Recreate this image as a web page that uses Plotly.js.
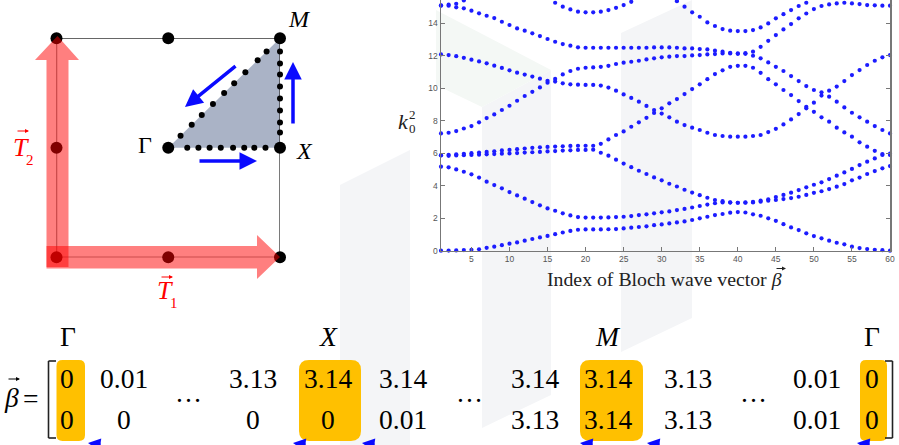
<!DOCTYPE html>
<html>
<head>
<meta charset="utf-8">
<script src="https://cdn.plot.ly/plotly-3.0.1.min.js"></script>
<style>html,body{margin:0;padding:0;background:#fff}#chart{width:899px;height:445px}</style>
</head>
<body>
<div id="chart"></div>
<script>
// ---------------- DATA ----------------
// Index of Bloch wave vector (Gamma -> X -> M -> Gamma)
const blochIndex = [1,2,3,4,5,6,7,8,9,10,11,12,13,14,15,16,17,18,19,20,
  21,22,23,24,25,26,27,28,29,30,31,32,33,34,35,36,37,38,39,40,
  41,42,43,44,45,46,47,48,49,50,51,52,53,54,55,56,57,58,59,60];

// k0^2 for each band
const bandA = [0.00,0.01,0.02,0.04,0.06,0.09,0.18,0.25,0.34,0.43,0.51,0.62,0.72,0.82,0.91,1.02,1.12,1.22,1.29,1.31,
  1.31,1.31,1.32,1.33,1.37,1.42,1.46,1.50,1.57,1.62,1.68,1.74,1.80,1.89,1.99,2.09,2.19,2.26,2.34,2.38,
  2.35,2.24,2.15,1.99,1.84,1.63,1.43,1.27,1.07,0.90,0.76,0.62,0.49,0.39,0.25,0.16,0.10,0.06,0.03,0.00];
const bandB = [5.17,5.13,5.00,4.86,4.70,4.50,4.25,4.04,3.84,3.61,3.40,3.20,2.99,2.79,2.60,2.46,2.30,2.17,2.07,2.04,
  2.04,2.04,2.05,2.07,2.09,2.13,2.19,2.24,2.30,2.36,2.42,2.50,2.57,2.66,2.75,2.84,2.92,2.97,2.96,2.95,
  2.95,2.97,3.02,3.08,3.12,3.18,3.24,3.32,3.43,3.56,3.66,3.79,3.94,4.10,4.33,4.50,4.72,4.90,5.07,5.21];
const bandC = [5.86,5.84,5.86,5.88,5.89,5.91,5.93,5.95,5.97,5.99,6.01,6.04,6.06,6.08,6.11,6.13,6.16,6.18,6.20,6.20,
  6.22,6.03,5.85,5.60,5.36,5.14,4.92,4.72,4.51,4.33,4.12,3.95,3.75,3.58,3.42,3.26,3.12,3.05,2.98,2.95,
  2.97,3.00,3.08,3.16,3.30,3.43,3.57,3.73,3.90,4.06,4.21,4.41,4.62,4.82,5.03,5.27,5.48,5.68,5.89,5.97];
const bandD = [5.88,5.90,5.93,5.96,6.00,6.04,6.08,6.12,6.17,6.20,6.25,6.29,6.33,6.36,6.39,6.41,6.43,6.45,6.46,6.46,
  6.46,6.58,6.85,7.12,7.34,7.63,7.90,8.18,8.48,8.76,9.07,9.33,9.64,9.95,10.24,10.56,10.87,11.10,11.32,11.38,
  11.38,11.26,10.95,10.56,10.24,9.89,9.58,9.21,8.86,8.55,8.21,7.94,7.57,7.28,7.02,6.67,6.40,6.15,5.95,5.89];
const bandE = [7.22,7.26,7.36,7.52,7.67,7.90,8.16,8.39,8.66,8.92,9.23,9.52,9.78,10.05,10.34,10.41,10.30,10.24,10.22,10.20,
  10.20,10.16,10.04,9.85,9.62,9.40,9.17,8.91,8.66,8.44,8.21,7.94,7.73,7.57,7.43,7.26,7.12,7.06,7.02,7.02,
  7.02,7.06,7.12,7.30,7.50,7.77,8.08,8.41,8.76,9.11,9.55,9.85,10.10,10.44,10.81,11.12,11.43,11.69,11.90,12.04];
const bandF = [12.08,12.04,11.97,11.87,11.76,11.65,11.53,11.39,11.25,11.10,10.96,10.84,10.72,10.59,10.46,10.57,10.85,11.06,11.20,11.26,
  11.28,11.32,11.38,11.49,11.57,11.63,11.69,11.77,11.84,11.90,11.94,11.98,11.98,12.02,12.04,12.08,12.10,12.14,12.14,12.12,
  12.12,12.00,11.84,11.59,11.32,11.06,10.75,10.44,10.13,9.89,9.75,9.48,9.17,8.82,8.49,8.21,7.94,7.67,7.43,7.22];
const bandG = [15.08,15.08,14.98,14.92,14.77,14.61,14.46,14.32,14.09,13.89,13.68,13.54,13.38,13.21,13.03,12.86,12.72,12.62,12.52,12.49,
  12.49,12.49,12.49,12.49,12.49,12.49,12.49,12.49,12.51,12.51,12.51,12.49,12.45,12.45,12.41,12.39,12.31,12.25,12.18,12.14,
  12.16,12.25,12.55,12.92,13.27,13.62,13.95,14.30,14.60,14.87,15.06,15.16,15.22,15.26,15.22,15.18,15.12,15.10,15.08,15.08];
const bandH = [15.10,15.14,15.20,15.40,null,null,null,null,null,null,null,null,null,null,null,15.26,15.02,14.85,14.71,14.67,
  14.67,14.71,14.81,14.95,15.12,15.32,null,null,null,null,null,null,null,null,null,null,null,null,null,null,
  null,null,null,null,null,null,null,null,null,null,null,null,null,null,null,null,null,null,null,null];
const bandI = [null,null,null,null,null,null,null,null,null,null,null,null,null,null,null,null,null,null,null,null,
  null,null,null,null,null,null,null,null,null,null,null,15.36,15.02,14.67,14.40,14.05,13.83,13.64,13.54,13.52,
  13.52,13.58,13.74,13.99,14.30,14.56,14.81,15.06,15.26,null,null,null,null,null,null,null,null,null,null,null];
const bands = [bandA,bandB,bandC,bandD,bandE,bandF,bandG,bandH,bandI];

const xTicks = [5,10,15,20,25,30,35,40,45,50,55,60];
const yTicks = [0,2,4,6,8,10,12,14];

// Brillouin-zone sketch (units of pi)
const nodeX = [-1,0,1,-1,0,1,-1,0,1];
const nodeY = [1,1,1,0,0,0,-1,-1,-1];
const gxFrac = [0.17,0.27,0.37,0.47,0.58,0.68,0.77,0.87];
const xmFrac = [0.14,0.23,0.34,0.45,0.56,0.67,0.77,0.88];
const mgFrac = [0.11,0.21,0.30,0.40,0.50,0.59,0.69,0.80,0.88];

// Matrix of Bloch wave vectors
const betaRow1 = ['0','0.01','3.13','3.14','3.14','3.14','3.14','3.13','0.01','0'];
const betaRow2 = ['0','0','0','0','0.01','3.13','3.14','3.13','0.01','0'];
const pointLabels = ['Γ','X','M','Γ'];

// ---------------- LAYOUT HELPERS ----------------
const W = 899, H = 445, PI = Math.PI;
const px = x => x / W;
const py = y => 1 - y / H;
function polyPath(pts){
  return 'M' + pts.map(p => px(p[0]).toFixed(5) + ',' + py(p[1]).toFixed(5)).join('L') + 'Z';
}
function roundRect(x0,y0,x1,y1,r){
  const P = (x,y) => px(x).toFixed(5)+','+py(y).toFixed(5);
  return 'M'+P(x0+r,y0)+'L'+P(x1-r,y0)+'Q'+P(x1,y0)+' '+P(x1,y0+r)+
         'L'+P(x1,y1-r)+'Q'+P(x1,y1)+' '+P(x1-r,y1)+
         'L'+P(x0+r,y1)+'Q'+P(x0,y1)+' '+P(x0,y1-r)+
         'L'+P(x0,y0+r)+'Q'+P(x0,y0)+' '+P(x0+r,y0)+'Z';
}
const SERIF = 'Liberation Serif, Times New Roman, serif';
function txt(x,y,text,size,color,extra){
  return Object.assign({xref:'paper',yref:'paper',x:px(x),y:py(y),text:text,showarrow:false,
    xanchor:'center',yanchor:'middle',font:{family:SERIF,size:size,color:color||'#000'}}, extra||{});
}
function arrow(hx,hy,tx,ty,width,color,size,head){
  return {xref:'paper',yref:'paper',x:px(hx),y:py(hy),ax:tx-hx,ay:ty-hy,axref:'pixel',ayref:'pixel',
    text:'',showarrow:true,arrowhead:head,arrowsize:size,arrowwidth:width,arrowcolor:color,standoff:0,startstandoff:0};
}

// ---------------- TRACES ----------------
const traces = [];
bands.forEach(b => traces.push({
  type:'scatter', mode:'markers', x:blochIndex, y:b, xaxis:'x', yaxis:'y',
  marker:{size:4.2, color:'#1c1cff'}, cliponaxis:false, hoverinfo:'skip'
}));

// sketch: triangle, square, nodes, path dots
traces.push({type:'scatter', mode:'lines', x:[0,PI,PI,0], y:[0,0,PI,0], fill:'toself',
  fillcolor:'#aab3c6', line:{width:0, color:'#aab3c6'}, xaxis:'x2', yaxis:'y2', hoverinfo:'skip'});
traces.push({type:'scatter', mode:'lines', x:[-PI,PI,PI,-PI,-PI], y:[PI,PI,-PI,-PI,PI],
  line:{width:1.3, color:'#333'}, xaxis:'x2', yaxis:'y2', hoverinfo:'skip'});
const pathX = [], pathY = [];
gxFrac.forEach(f => {pathX.push(f*PI); pathY.push(0);});
xmFrac.forEach(f => {pathX.push(PI); pathY.push(f*PI);});
mgFrac.forEach(f => {pathX.push(f*PI); pathY.push(f*PI);});
traces.push({type:'scatter', mode:'markers', x:pathX, y:pathY, marker:{size:6, color:'#000'},
  xaxis:'x2', yaxis:'y2', cliponaxis:false, hoverinfo:'skip'});
traces.push({type:'scatter', mode:'markers', x:nodeX.map(v=>v*PI), y:nodeY.map(v=>v*PI),
  marker:{size:12, color:'#000'}, xaxis:'x2', yaxis:'y2', cliponaxis:false, hoverinfo:'skip'});

// ---------------- SHAPES ----------------
const shapes = [];
// faint watermark strips
const wm = '#f4f5f7';
shapes.push({type:'path', xref:'paper', yref:'paper', layer:'below', line:{width:0}, fillcolor:wm,
  path:polyPath([[482,107],[551,70],[551,395],[482,428]])});
shapes.push({type:'path', xref:'paper', yref:'paper', layer:'below', line:{width:0}, fillcolor:wm,
  path:polyPath([[621,33],[692,0],[692,318],[621,352]])});
shapes.push({type:'path', xref:'paper', yref:'paper', layer:'below', line:{width:0}, fillcolor:wm,
  path:polyPath([[340,185],[410,150],[410,445],[340,445]])});
shapes.push({type:'path', xref:'paper', yref:'paper', layer:'below', line:{width:0}, fillcolor:'#f4f8f5',
  path:polyPath([[436,10],[551,70],[482,107],[436,85]])});

// red translucent lattice vectors
const red = 'rgba(255,0,0,0.5)';
shapes.push({type:'path', xref:'paper', yref:'paper', layer:'above', line:{width:0}, fillcolor:red,
  path:polyPath([[46.5,267],[46.5,60],[35,60],[57.5,36],[79,60],[68.5,60],[68.5,267]])});
shapes.push({type:'path', xref:'paper', yref:'paper', layer:'above', line:{width:0}, fillcolor:red,
  path:polyPath([[46.5,246],[257,246],[257,235],[280,257],[257,279],[257,268.5],[46.5,268.5]])});

// orange highlight boxes
const orange = '#ffc000';
[[56.5,360,85,441,6],[299,360,361,441,10],[580,360,643,441,10],[860,360,887,441,6]].forEach(b=>{
  shapes.push({type:'path', xref:'paper', yref:'paper', layer:'below', line:{width:0}, fillcolor:orange,
    path:roundRect(b[0],b[1],b[2],b[3],b[4])});
});
// brackets
const br = {color:'#222', width:1.6};
[[48.5,361,48.5,438],[48.5,361,56,361],[48.5,438,56,438],
 [892.5,361,892.5,438],[892.5,361,885,361],[892.5,438,885,438]].forEach(l=>{
  shapes.push({type:'line', xref:'paper', yref:'paper', x0:px(l[0]), y0:py(l[1]), x1:px(l[2]), y1:py(l[3]), line:br});
});

// ---------------- ANNOTATIONS ----------------
const ann = [];
// axis titles
ann.push(txt(664,279,'Index of Bloch wave vector <i>β</i>',19.8,'#222'));
ann.push(arrow(786,268.5,775,268.5,1,'#222',0.8,2));
ann.push(txt(403,122,'<i>k</i>',22,'#222'));
ann.push(txt(412,115,'2',13,'#222'));
ann.push(txt(412,128,'0',13,'#222'));

// sketch labels
ann.push(txt(299,19,'<i>M</i>',24));
ann.push(txt(304,151,'<i>X</i>',24));
ann.push(txt(145,145,'Γ',24));
ann.push(txt(21,147,'<i>T</i>',26,'#ff0000'));
ann.push(txt(30,160,'2',15,'#ff0000'));
ann.push(arrow(29,131,16,131,1,'#ff0000',0.8,2));
ann.push(txt(165,290,'<i>T</i>',26,'#ff0000'));
ann.push(txt(174,303,'1',15,'#ff0000'));
ann.push(arrow(173,277,160,277,1,'#ff0000',0.8,2));

// blue path arrows
const blue = '#0a0aff';
ann.push(arrow(185,107,237,65,3.5,blue,1,2));
ann.push(arrow(293,62,293,125,3.5,blue,1,2));
ann.push(arrow(257,161,198,161,3.5,blue,1,2));

// matrix
const colX = [67,124,253,328,403,535,608,688,817,872];
betaRow1.forEach((t,i)=>ann.push(txt(colX[i],378,t,27.5)));
betaRow2.forEach((t,i)=>ann.push(txt(colX[i],419,t,27.5)));
[188,470,753].forEach(x=>ann.push(txt(x,393,'…',27)));
const labX = [68,328,608,872];
pointLabels.forEach((t,i)=>ann.push(txt(labX[i],336, (t==='Γ')?t:'<i>'+t+'</i>',27.5)));
ann.push(txt(11,397,'<i>β</i>',27.5));
ann.push(txt(31,398,'=',27.5));
ann.push(arrow(20,379,7,379,1,'#000',0.8,2));
// cut-off blue arrow tips at the bottom edge
[88,293,362,580,647,857].forEach(x=>ann.push(arrow(x,443,x+14,452,2.5,blue,1,2)));

// ---------------- LAYOUT ----------------
const tickFont = {family:'Liberation Sans, Arial, sans-serif', size:8.5, color:'#555'};
const layout = {
  width:W, height:H, margin:{l:0,r:0,t:0,b:0}, showlegend:false,
  paper_bgcolor:'#ffffff', plot_bgcolor:'rgba(0,0,0,0)',
  xaxis:{domain:[441/W, 890/W], range:[1,60], tickvals:xTicks, ticks:'inside', ticklen:4, tickwidth:1,
    tickcolor:'#777', showline:true, linecolor:'#777', linewidth:1.5, showgrid:false, zeroline:false,
    tickfont:tickFont, anchor:'y', fixedrange:true},
  yaxis:{domain:[1-250.7/H, 1], range:[0,15.43], tickvals:yTicks, ticks:'inside', ticklen:4, tickwidth:1,
    tickcolor:'#777', showline:true, linecolor:'#777', linewidth:1.5, mirror:'ticks', showgrid:false, zeroline:false,
    tickfont:tickFont, anchor:'x', fixedrange:true},
  xaxis2:{domain:[56.5/W, 280/W], range:[-PI,PI], visible:false, anchor:'y2', fixedrange:true},
  yaxis2:{domain:[1-257.3/H, 1-38.3/H], range:[-PI,PI], visible:false, anchor:'x2', fixedrange:true},
  shapes:shapes, annotations:ann
};
Plotly.newPlot('chart', traces, layout, {staticPlot:true, displayModeBar:false});
</script>
</body>
</html>
